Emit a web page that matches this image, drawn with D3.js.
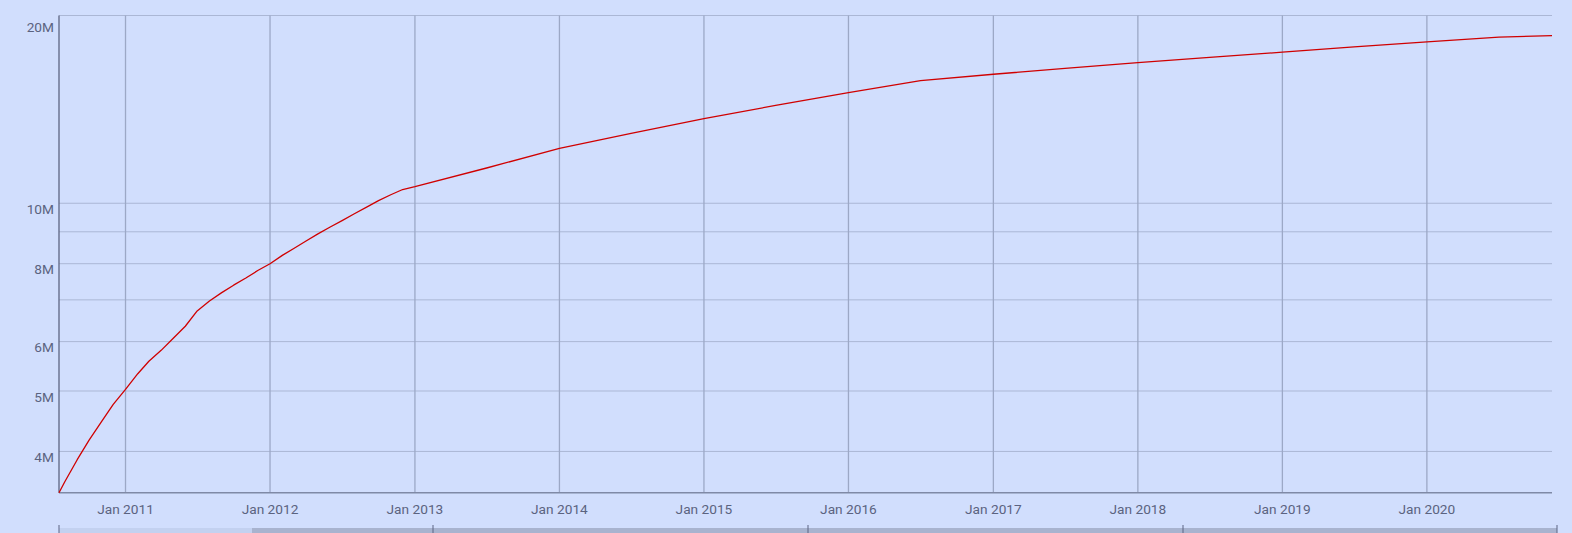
<!DOCTYPE html>
<html>
<head>
<meta charset="utf-8">
<script src="https://cdn.jsdelivr.net/npm/d3@7"></script>
<style>
  body { margin: 0; background: #d1defd; }
  svg { display: block; font-family: Roboto, "Noto Sans", sans-serif; }
</style>
</head>
<body>
<div id="chart"></div>
<script>
// data (values in millions)
var dates = ["2010-07-17","2010-08-01","2010-09-01","2010-10-01","2010-11-01","2010-12-01",
  "2011-01-01","2011-02-01","2011-03-01","2011-04-01","2011-05-01","2011-06-01",
  "2011-07-01","2011-08-01","2011-09-01","2011-10-01","2011-11-01","2011-12-01",
  "2012-01-01","2012-02-01","2012-03-01","2012-04-01","2012-05-01","2012-06-01",
  "2012-07-01","2012-08-01","2012-09-01","2012-10-01","2012-11-01","2012-12-01",
  "2013-01-01","2013-07-01","2014-01-01","2014-07-01","2015-01-01","2015-07-01",
  "2016-01-01","2016-07-01","2017-01-01","2017-07-01","2018-01-01","2018-07-01",
  "2019-01-01","2019-07-01","2020-01-01","2020-07-01","2020-11-12"];
var values = [3.435,3.58,3.88,4.17,4.46,4.76,
  5.03,5.33,5.58,5.81,6.07,6.35,
  6.72,6.97,7.19,7.39,7.59,7.80,
  8.00,8.25,8.46,8.70,8.93,9.16,
  9.38,9.62,9.86,10.10,10.32,10.52,
  10.63,11.39,12.25,12.94,13.67,14.35,
  15.04,15.73,16.10,16.45,16.81,17.13,
  17.47,17.81,18.14,18.46,18.57];
var yGrid = [4, 5, 6, 7, 8, 9, 10, 20];
var yLabels = [4, 5, 6, 8, 10, 20];
var xYears = [2011, 2012, 2013, 2014, 2015, 2016, 2017, 2018, 2019, 2020];

var W = 1572, H = 533;
// plot area edges (named so they don't clash with window.top)
var plotL = 59, plotR = 1552, plotT = 15.5, plotB = 492.7;

var parse = d3.timeParse("%Y-%m-%d");
var data = [];
for (var i = 0; i < dates.length; i++) {
  data.push({date: parse(dates[i]), val: values[i] * 1e6});
}

var x = d3.scaleTime()
  .domain([data[0].date, data[data.length - 1].date])
  .range([plotL, plotR]);
var y = d3.scaleLog()
  .domain([data[0].val, 20e6])
  .range([plotB, plotT]);

var svg = d3.select("#chart").append("svg")
  .attr("width", W)
  .attr("height", H);

svg.append("rect").attr("width", W).attr("height", H).attr("fill", "#d1defd");

// horizontal grid
svg.append("g").selectAll("line")
  .data(yGrid)
  .enter().append("line")
    .attr("x1", plotL).attr("x2", plotR)
    .attr("y1", function(d) { return y(d * 1e6); })
    .attr("y2", function(d) { return y(d * 1e6); })
    .attr("stroke", "#abb7d5")
    .attr("stroke-width", 1);

// vertical grid (Jan of each year)
var yearDates = xYears.map(function(yr) { return new Date(yr, 0, 1); });
svg.append("g").selectAll("line")
  .data(yearDates)
  .enter().append("line")
    .attr("x1", function(d) { return x(d); })
    .attr("x2", function(d) { return x(d); })
    .attr("y1", plotT).attr("y2", plotB)
    .attr("stroke", "#9ca8c6")
    .attr("stroke-width", 1.3);

// axis lines
svg.append("line")
  .attr("x1", plotL).attr("x2", plotR).attr("y1", plotB).attr("y2", plotB)
  .attr("stroke", "#7f89a6").attr("stroke-width", 1.5);
svg.append("line")
  .attr("x1", plotL).attr("x2", plotL).attr("y1", plotT).attr("y2", plotB)
  .attr("stroke", "#5d6583").attr("stroke-width", 1.3);

// y labels
svg.append("g").selectAll("text")
  .data(yLabels)
  .enter().append("text")
    .attr("x", 54)
    .attr("y", function(d) { return Math.max(y(d * 1e6) + 6, plotT + 12); })
    .attr("dy", "0.35em")
    .attr("text-anchor", "end")
    .attr("font-size", 13.7)
    .attr("fill", "#5b6380")
    .text(function(d) { return d + "M"; });

// x labels
svg.append("g").selectAll("text")
  .data(yearDates)
  .enter().append("text")
    .attr("x", function(d) { return x(d); })
    .attr("y", 514)
    .attr("text-anchor", "middle")
    .attr("font-size", 13.7)
    .attr("fill", "#5b6380")
    .text(d3.timeFormat("Jan %Y"));

// the series
var line = d3.line()
  .x(function(d) { return x(d.date); })
  .y(function(d) { return y(d.val); });
svg.append("path")
  .datum(data)
  .attr("d", line)
  .attr("fill", "none")
  .attr("stroke", "#d00000")
  .attr("stroke-width", 1.3)
  .attr("stroke-linejoin", "round");

// range strip at the bottom
svg.append("rect").attr("x", plotL).attr("y", 528).attr("width", 252 - plotL).attr("height", 6).attr("fill", "#c3d1f0");
svg.append("rect").attr("x", 252).attr("y", 528).attr("width", 1557 - 252).attr("height", 6).attr("fill", "#a8b3cf");
svg.append("g").selectAll("line")
  .data([plotL, 433, 808, 1183, 1557])
  .enter().append("line")
    .attr("x1", function(d) { return d; }).attr("x2", function(d) { return d; })
    .attr("y1", 525).attr("y2", 533)
    .attr("stroke", "#5d6583").attr("stroke-width", 1);
</script>
</body>
</html>
